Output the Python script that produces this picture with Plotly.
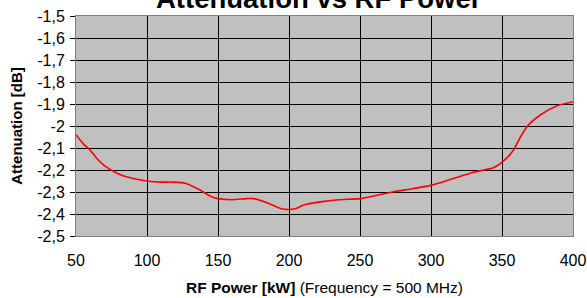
import plotly.graph_objects as go

# Data
rf_power_kw = [50, 55, 60, 65, 70, 77.5, 85, 100, 110, 118, 127, 137, 145, 150, 160, 170, 175,
               185, 194, 200, 205, 210, 222, 235, 250, 262, 273, 287, 300, 315, 330, 344, 351,
               358, 363, 368, 377, 388, 400]
attenuation_db = [-2.04, -2.08, -2.11, -2.15, -2.18, -2.21, -2.23, -2.25, -2.255, -2.255, -2.26,
                  -2.29, -2.32, -2.33, -2.335, -2.33, -2.33, -2.35, -2.375, -2.38, -2.375, -2.36,
                  -2.345, -2.335, -2.33, -2.315, -2.30, -2.285, -2.27, -2.24, -2.21, -2.19, -2.16,
                  -2.11, -2.05, -2.0, -1.95, -1.91, -1.89]

x_tickvals = [50, 100, 150, 200, 250, 300, 350, 400]
y_tickvals = [-1.5, -1.6, -1.7, -1.8, -1.9, -2.0, -2.1, -2.2, -2.3, -2.4, -2.5]
y_ticktext = ["-1,5", "-1,6", "-1,7", "-1,8", "-1,9", "-2", "-2,1", "-2,2", "-2,3", "-2,4", "-2,5"]

font_family = "Liberation Sans, Arial, sans-serif"

fig = go.Figure()
fig.add_trace(go.Scatter(
    x=rf_power_kw, y=attenuation_db, mode="lines",
    line=dict(color="#ff0000", width=1.6, shape="spline", smoothing=0.6),
    showlegend=False, hoverinfo="x+y",
))

fig.update_layout(
    width=587, height=298,
    margin=dict(l=76, r=14, t=16, b=62),
    paper_bgcolor="white",
    plot_bgcolor="#c0c0c0",
    font=dict(family=font_family, size=16, color="black"),
    showlegend=False,
)

fig.update_xaxes(
    range=[50, 400], tickvals=x_tickvals, ticktext=[str(v) for v in x_tickvals],
    showgrid=True, gridcolor="black", gridwidth=1,
    showline=True, linecolor="#808080", linewidth=1, mirror=True,
    ticks="", ticklabelstandoff=10, zeroline=False, automargin=False,
    tickfont=dict(size=16),
    title=dict(text="<b>RF Power [kW]</b> (Frequency = 500 MHz)", font=dict(size=15.5), standoff=13),
)
fig.update_yaxes(
    range=[-2.5, -1.5], tickvals=y_tickvals, ticktext=y_ticktext,
    showgrid=True, gridcolor="black", gridwidth=1,
    showline=True, linecolor="#808080", linewidth=1, mirror=True,
    ticks="outside", ticklen=5, tickcolor="black", zeroline=False, automargin=False,
    ticklabelstandoff=2,
    tickfont=dict(size=16),
    title=dict(text="<b>Attenuation [dB]</b>", font=dict(size=15), standoff=10),
)

fig.add_annotation(
    text="<b>Attenuation vs RF Power</b>", xref="paper", yref="paper",
    x=0.488, y=1.08, xanchor="center", yanchor="middle", showarrow=False,
    font=dict(size=27.5, family=font_family, color="black"),
)

fig.write_html("out.html", post_script="document.body.style.margin='0';",
               config={"displayModeBar": False})
